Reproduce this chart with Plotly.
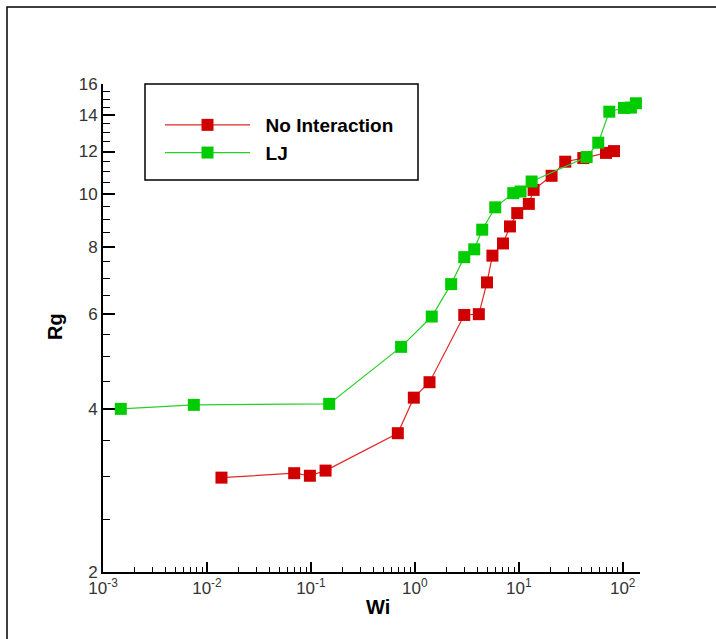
import numpy as np
import plotly.graph_objects as go

# ---- data ----
wi_noint = [0.0138, 0.0691, 0.0978, 0.1385, 0.686, 0.978, 1.385, 2.99, 4.13, 4.95, 5.58,
            7.05, 8.23, 9.67, 12.5, 13.9, 20.7, 28.0, 41.8, 69.1, 82.5]
rg_noint = [2.99, 3.047, 3.014, 3.081, 3.613, 4.204, 4.49, 5.98, 6.00, 6.87, 7.70,
            8.11, 8.72, 9.23, 9.60, 10.19, 10.82, 11.49, 11.67, 11.93, 12.02]

wi_lj = [0.001483, 0.00748, 0.150, 0.738, 1.455, 2.236, 2.99, 3.73, 4.45, 5.94, 8.85,
         10.4, 13.3, 45.0, 58.2, 74.3, 102.9, 120.0, 134.0, 150.0]
rg_lj = [4.008, 4.077, 4.094, 5.22, 5.94, 6.82, 7.65, 7.91, 8.60, 9.46, 10.05,
         10.12, 10.56, 11.72, 12.46, 14.22, 14.45, 14.47, 14.74, 14.83]

series_names = ["No Interaction", "LJ"]

x_major = [1e-3, 1e-2, 1e-1, 1e0, 1e1, 1e2]
x_major_text = ["10<sup>-3</sup>", "10<sup>-2</sup>", "10<sup>-1</sup>",
                "10<sup>0</sup>", "10<sup>1</sup>", "10<sup>2</sup>"]
x_minor = [m * d for d in [1e-3, 1e-2, 1e-1, 1e0, 1e1] for m in range(2, 10)]
y_major = [2, 4, 6, 8, 10, 12, 14, 16]
y_minor = [v / 2 for v in range(4, 33) if v % 4 != 0]

FONT = "Liberation Sans, Arial, sans-serif"
RED = "#D00000"
GREEN = "#00CC00"
PAD = "\u00a0\u00a0"

fig = go.Figure()
fig.add_trace(go.Scatter(
    x=wi_noint, y=rg_noint, name=PAD + series_names[0], mode="lines+markers",
    line=dict(color="#E02828", width=1.2),
    marker=dict(symbol="square", size=12, color=RED, line=dict(width=0)),
    cliponaxis=False))
fig.add_trace(go.Scatter(
    x=wi_lj, y=rg_lj, name=PAD + series_names[1], mode="lines+markers",
    line=dict(color="#28D028", width=1.2),
    marker=dict(symbol="square", size=12, color=GREEN, line=dict(width=0)),
    cliponaxis=False))

W, H = 716, 639
L, R, T, B = 103, 76, 84, 67
pw, ph = W - L - R, H - T - B


def px(xp):
    return (xp - L) / pw


def py(yp):
    return (H - B - yp) / ph


fig.update_layout(
    width=W, height=H,
    margin=dict(l=L, r=R, t=T, b=B, pad=0),
    paper_bgcolor="white", plot_bgcolor="white",
    font=dict(family=FONT, color="#333333", size=17),
    showlegend=True,
    legend=dict(
        x=px(160), y=py(106), xanchor="left", yanchor="top",
        bgcolor="rgba(0,0,0,0)", borderwidth=0,
        font=dict(family=FONT, size=19, color="black", weight="bold"),
        itemwidth=85, tracegroupgap=0,
    ),
    xaxis=dict(
        type="log", range=[-3, np.log10(146.7)],
        showgrid=False, zeroline=False,
        showline=True, linecolor="black", linewidth=2,
        ticks="inside", ticklen=10, tickwidth=1.5, tickcolor="black",
        tickmode="array", tickvals=x_major, ticktext=x_major_text,
        tickfont=dict(size=17, color="#333333"),
        minor=dict(tickmode="array", tickvals=x_minor, ticks="inside",
                   ticklen=5, tickwidth=1, tickcolor="black", showgrid=False),
    ),
    yaxis=dict(
        type="log", range=[np.log10(2), np.log10(16)],
        showgrid=False, zeroline=False,
        showline=True, linecolor="black", linewidth=2,
        ticks="inside", ticklen=12, tickwidth=1.5, tickcolor="black",
        tickmode="array", tickvals=y_major, ticktext=[str(v) for v in y_major],
        tickfont=dict(size=17, color="#333333"),
        minor=dict(tickmode="array", tickvals=y_minor, ticks="inside",
                   ticklen=7, tickwidth=1, tickcolor="black", showgrid=False),
    ),
    annotations=[
        dict(text="<b>Wi</b>", xref="paper", yref="paper",
             x=px(378), y=py(607), xanchor="center", yanchor="middle",
             showarrow=False, font=dict(family=FONT, size=20, color="black")),
        dict(text="<b>Rg</b>", xref="paper", yref="paper", textangle=-90,
             x=px(55), y=py(327), xanchor="center", yanchor="middle",
             showarrow=False, font=dict(family=FONT, size=20, color="black")),
    ],
    shapes=[
        # outer frame
        dict(type="rect", xref="paper", yref="paper",
             x0=px(7), x1=px(725), y0=py(650), y1=py(7),
             line=dict(color="black", width=1.5), fillcolor="rgba(0,0,0,0)",
             layer="below"),
        # legend box
        dict(type="rect", xref="paper", yref="paper",
             x0=px(145), x1=px(418), y0=py(180), y1=py(84),
             line=dict(color="black", width=1.5), fillcolor="white",
             layer="below"),
    ],
)

fig.write_html("out.html")
